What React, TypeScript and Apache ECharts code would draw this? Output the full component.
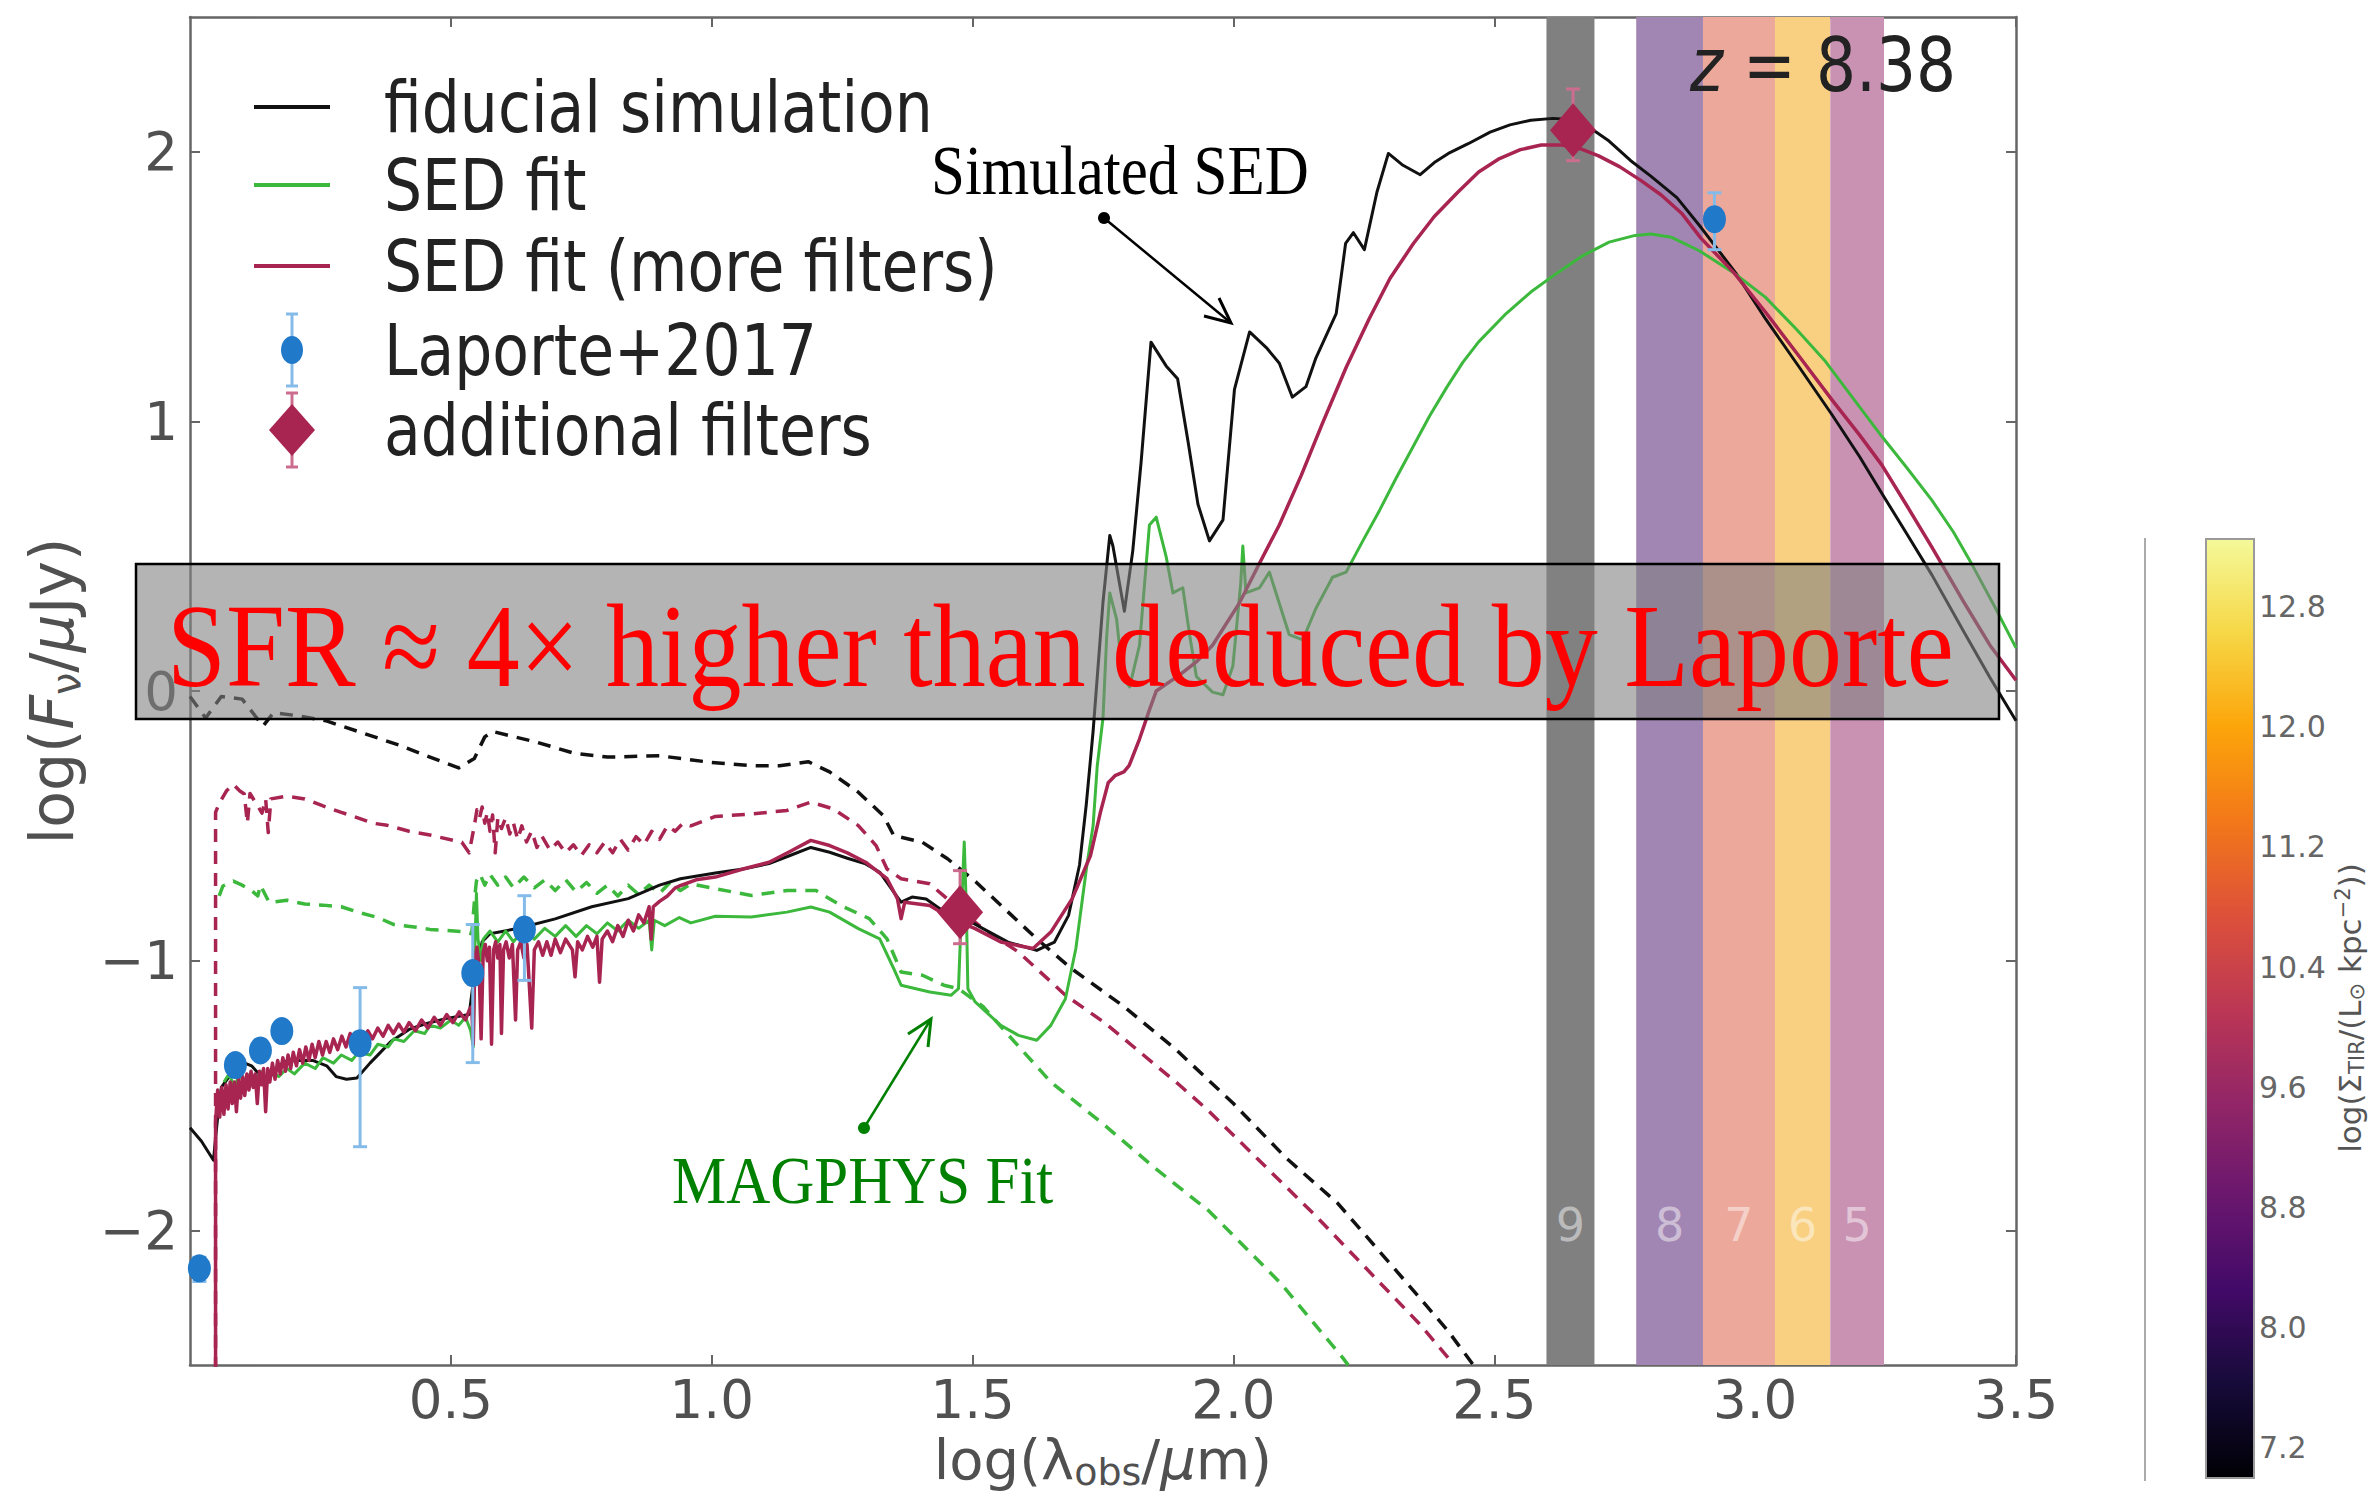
import React, { useEffect, useRef } from 'react';
import * as echarts from 'echarts';

// ---------------- data ----------------
const xTickValues = [0.5, 1.0, 1.5, 2.0, 2.5, 3.0, 3.5];
const yTickValues = [-2, -1, 0, 1, 2];
const colorbarTicks = [7.2, 8.0, 8.8, 9.6, 10.4, 11.2, 12.0, 12.8];

const almaBandNames = ['9', '8', '7', '6', '5'];
const almaBandEdges = [
  [2.600, 2.692],
  [2.772, 2.900],
  [2.900, 3.038],
  [3.038, 3.144],
  [3.144, 3.247],
];

const legendLabels = ['fiducial simulation', 'SED fit', 'SED fit (more filters)', 'Laporte+2017', 'additional filters'];

// black solid
const fiducialSim = [
  [0.000, -1.62], [0.022, -1.67], [0.045, -1.74], [0.052, -1.60], [0.060, -1.47], [0.075, -1.43], [0.090, -1.41],
  [0.105, -1.38], [0.118, -1.39], [0.132, -1.42], [0.150, -1.44], [0.165, -1.40], [0.180, -1.375], [0.200, -1.37],
  [0.235, -1.37], [0.262, -1.39], [0.280, -1.43], [0.300, -1.44], [0.320, -1.435], [0.345, -1.38], [0.365, -1.34],
  [0.385, -1.30], [0.420, -1.255], [0.450, -1.235], [0.490, -1.215], [0.535, -1.20], [0.545, -1.05], [0.560, -0.93],
  [0.575, -0.90], [0.630, -0.88], [0.700, -0.845], [0.770, -0.80], [0.840, -0.77], [0.900, -0.72], [0.940, -0.696],
  [1.007, -0.675], [1.060, -0.66], [1.110, -0.64], [1.150, -0.61], [1.190, -0.58], [1.226, -0.598], [1.260, -0.62],
  [1.295, -0.641], [1.322, -0.672], [1.349, -0.746], [1.363, -0.783], [1.384, -0.764], [1.411, -0.771], [1.438, -0.808],
  [1.486, -0.844], [1.520, -0.881], [1.568, -0.931], [1.623, -0.962], [1.657, -0.931], [1.684, -0.832], [1.705, -0.645],
  [1.718, -0.42], [1.731, -0.15], [1.750, 0.33], [1.763, 0.577], [1.769, 0.538], [1.791, 0.296], [1.807, 0.519],
  [1.823, 0.848], [1.842, 1.294], [1.871, 1.206], [1.893, 1.158], [1.913, 0.926], [1.932, 0.693], [1.954, 0.557],
  [1.980, 0.635], [2.002, 1.119], [2.031, 1.332], [2.063, 1.274], [2.088, 1.216], [2.113, 1.09], [2.139, 1.129],
  [2.158, 1.235], [2.197, 1.40], [2.215, 1.66], [2.230, 1.70], [2.251, 1.637], [2.275, 1.85], [2.297, 1.994],
  [2.325, 1.95], [2.358, 1.915], [2.385, 1.96], [2.412, 1.994], [2.450, 2.03], [2.492, 2.073], [2.530, 2.10],
  [2.570, 2.117], [2.613, 2.124], [2.645, 2.12], [2.675, 2.10], [2.720, 2.04], [2.761, 1.968], [2.800, 1.91],
  [2.850, 1.83], [2.896, 1.72], [2.963, 1.55], [3.020, 1.38], [3.085, 1.20], [3.148, 1.023], [3.200, 0.87],
  [3.243, 0.733], [3.290, 0.585], [3.339, 0.43], [3.400, 0.22], [3.450, 0.05], [3.500, -0.11],
];

// black dashed
const fiducialIntrinsic = [
  [0.000, -0.02], [0.030, -0.10], [0.060, -0.02], [0.100, -0.03], [0.140, -0.13], [0.160, -0.08], [0.200, -0.09],
  [0.260, -0.11], [0.330, -0.155], [0.400, -0.20], [0.460, -0.245], [0.515, -0.285], [0.545, -0.25], [0.565, -0.17],
  [0.580, -0.15], [0.665, -0.19], [0.735, -0.23], [0.800, -0.245], [0.900, -0.24], [1.000, -0.265], [1.076, -0.277],
  [1.130, -0.277], [1.185, -0.262], [1.226, -0.30], [1.281, -0.375], [1.329, -0.462], [1.349, -0.536], [1.404, -0.561],
  [1.452, -0.622], [1.507, -0.709], [1.575, -0.832], [1.623, -0.919], [1.690, -1.03], [1.790, -1.17], [1.890, -1.33],
  [2.000, -1.53], [2.100, -1.73], [2.200, -1.90], [2.330, -2.19], [2.410, -2.37], [2.460, -2.50],
];

// green solid
const sedFit = [
  [0.065, -1.45], [0.075, -1.42], [0.085, -1.47], [0.095, -1.42], [0.105, -1.46], [0.115, -1.42], [0.125, -1.45],
  [0.135, -1.41], [0.145, -1.47], [0.155, -1.41], [0.170, -1.43], [0.186, -1.40], [0.200, -1.42], [0.220, -1.38],
  [0.240, -1.40], [0.255, -1.36], [0.275, -1.38], [0.290, -1.35], [0.310, -1.37], [0.323, -1.34], [0.345, -1.35],
  [0.360, -1.31], [0.380, -1.32], [0.391, -1.29], [0.410, -1.30], [0.430, -1.26], [0.450, -1.27], [0.460, -1.24],
  [0.480, -1.25], [0.500, -1.22], [0.515, -1.24], [0.528, -1.21], [0.538, -1.26], [0.543, -1.32], [0.546, -0.95],
  [0.549, -0.75], [0.552, -0.92], [0.558, -1.00], [0.562, -0.92], [0.575, -0.89], [0.590, -0.93], [0.605, -0.89],
  [0.620, -0.93], [0.640, -0.88], [0.660, -0.92], [0.680, -0.88], [0.700, -0.91], [0.720, -0.87], [0.740, -0.91],
  [0.760, -0.87], [0.780, -0.90], [0.800, -0.86], [0.820, -0.89], [0.840, -0.85], [0.860, -0.88], [0.880, -0.85],
  [0.885, -0.96], [0.890, -0.85], [0.910, -0.87], [0.938, -0.84], [0.960, -0.86], [1.007, -0.835], [1.076, -0.838],
  [1.144, -0.82], [1.190, -0.801], [1.226, -0.82], [1.281, -0.881], [1.322, -0.919], [1.349, -1.03], [1.363, -1.091],
  [1.418, -1.116], [1.459, -1.128], [1.473, -1.104], [1.479, -0.80], [1.484, -0.56], [1.488, -0.80], [1.491, -1.104],
  [1.505, -1.153], [1.554, -1.24], [1.588, -1.277], [1.623, -1.295], [1.650, -1.24], [1.678, -1.141], [1.698, -0.955],
  [1.719, -0.647], [1.731, -0.50], [1.739, -0.277], [1.750, -0.10], [1.757, 0.20], [1.763, 0.364], [1.776, 0.267],
  [1.788, 0.054], [1.801, 0.015], [1.820, 0.17], [1.839, 0.616], [1.852, 0.645], [1.871, 0.499], [1.884, 0.364],
  [1.903, 0.383], [1.916, 0.209], [1.929, 0.054], [1.960, -0.004], [1.980, -0.014], [1.999, 0.093], [2.014, 0.40],
  [2.018, 0.538], [2.024, 0.364], [2.050, 0.383], [2.069, 0.441], [2.088, 0.325], [2.107, 0.209], [2.133, 0.19],
  [2.158, 0.306], [2.190, 0.422], [2.216, 0.441], [2.248, 0.557], [2.280, 0.67], [2.312, 0.79], [2.344, 0.905],
  [2.376, 1.02], [2.410, 1.13], [2.440, 1.22], [2.470, 1.295], [2.520, 1.395], [2.570, 1.48], [2.620, 1.55],
  [2.670, 1.615], [2.720, 1.665], [2.770, 1.69], [2.800, 1.695], [2.840, 1.683], [2.893, 1.633], [2.960, 1.55],
  [3.020, 1.46], [3.080, 1.34], [3.135, 1.222], [3.190, 1.08], [3.243, 0.944], [3.290, 0.83], [3.339, 0.707],
  [3.380, 0.59], [3.416, 0.468], [3.460, 0.31], [3.500, 0.16],
];

// green dashed
const sedFitIntrinsic = [
  [0.056, -0.76], [0.063, -0.723], [0.083, -0.705], [0.100, -0.72], [0.118, -0.74], [0.130, -0.76], [0.135, -0.72],
  [0.152, -0.785], [0.186, -0.776], [0.220, -0.79], [0.255, -0.794], [0.290, -0.80], [0.323, -0.821], [0.360, -0.84],
  [0.391, -0.866], [0.430, -0.875], [0.460, -0.884], [0.528, -0.893], [0.540, -0.90], [0.546, -0.76], [0.549, -0.705],
  [0.556, -0.68], [0.565, -0.72], [0.575, -0.68], [0.590, -0.72], [0.605, -0.69], [0.620, -0.73], [0.640, -0.69],
  [0.660, -0.73], [0.680, -0.70], [0.700, -0.74], [0.720, -0.70], [0.740, -0.745], [0.760, -0.71], [0.780, -0.75],
  [0.800, -0.72], [0.820, -0.76], [0.840, -0.72], [0.860, -0.755], [0.880, -0.72], [0.900, -0.75], [0.920, -0.71],
  [0.940, -0.74], [0.960, -0.715], [1.007, -0.733], [1.076, -0.758], [1.144, -0.74], [1.200, -0.74], [1.247, -0.795],
  [1.302, -0.844], [1.336, -0.919], [1.363, -1.042], [1.404, -1.054], [1.445, -1.091], [1.473, -1.104], [1.520, -1.17],
  [1.580, -1.30], [1.650, -1.45], [1.753, -1.61], [1.850, -1.77], [1.954, -1.93], [2.089, -2.193], [2.210, -2.474],
  [2.220, -2.50],
];

// crimson solid
const sedFitMore = [
  [0.049, -2.60], [0.049, -1.60], [0.053, -1.48], [0.057, -1.58], [0.061, -1.47], [0.065, -1.57], [0.069, -1.46],
  [0.073, -1.55], [0.077, -1.45], [0.081, -1.53], [0.085, -1.45], [0.089, -1.56], [0.093, -1.44], [0.097, -1.51],
  [0.101, -1.43], [0.105, -1.50], [0.109, -1.42], [0.113, -1.48], [0.117, -1.41], [0.121, -1.47], [0.125, -1.42],
  [0.129, -1.53], [0.133, -1.41], [0.137, -1.46], [0.141, -1.40], [0.145, -1.56], [0.149, -1.40], [0.153, -1.45],
  [0.158, -1.38], [0.163, -1.44], [0.168, -1.37], [0.173, -1.42], [0.178, -1.36], [0.183, -1.41], [0.188, -1.35],
  [0.193, -1.40], [0.198, -1.34], [0.204, -1.39], [0.210, -1.33], [0.216, -1.38], [0.222, -1.32], [0.228, -1.37],
  [0.234, -1.31], [0.240, -1.36], [0.247, -1.30], [0.254, -1.35], [0.261, -1.30], [0.268, -1.34], [0.275, -1.29],
  [0.283, -1.33], [0.291, -1.28], [0.299, -1.32], [0.307, -1.27], [0.315, -1.31], [0.323, -1.27], [0.332, -1.30],
  [0.341, -1.26], [0.350, -1.29], [0.360, -1.25], [0.370, -1.28], [0.380, -1.24], [0.390, -1.27], [0.400, -1.235],
  [0.410, -1.265], [0.420, -1.23], [0.432, -1.26], [0.444, -1.22], [0.456, -1.25], [0.468, -1.21], [0.480, -1.24],
  [0.492, -1.20], [0.504, -1.23], [0.516, -1.19], [0.528, -1.22], [0.536, -1.18], [0.540, -1.17], [0.543, -1.31],
  [0.546, -0.99], [0.550, -0.95], [0.554, -1.02], [0.558, -1.29], [0.562, -0.97], [0.566, -0.94], [0.570, -1.00],
  [0.574, -0.95], [0.578, -1.31], [0.582, -0.96], [0.586, -0.93], [0.590, -0.99], [0.594, -0.94], [0.597, -1.27],
  [0.601, -0.96], [0.606, -0.93], [0.612, -0.99], [0.618, -0.94], [0.624, -1.22], [0.628, -0.96], [0.634, -0.93],
  [0.640, -0.99], [0.646, -0.94], [0.655, -1.25], [0.660, -0.96], [0.668, -0.93], [0.676, -0.98], [0.684, -0.93],
  [0.692, -0.98], [0.700, -0.92], [0.710, -0.97], [0.720, -0.92], [0.733, -0.96], [0.738, -1.06], [0.743, -0.93],
  [0.752, -0.96], [0.762, -0.91], [0.772, -0.95], [0.780, -0.91], [0.785, -1.08], [0.790, -0.92], [0.800, -0.89],
  [0.810, -0.93], [0.820, -0.87], [0.830, -0.91], [0.840, -0.85], [0.850, -0.89], [0.860, -0.83], [0.870, -0.86],
  [0.880, -0.80], [0.884, -0.92], [0.888, -0.80], [0.900, -0.78], [0.915, -0.76], [0.930, -0.73], [0.938, -0.723],
  [0.970, -0.70], [1.007, -0.69], [1.060, -0.66], [1.110, -0.635], [1.150, -0.595], [1.190, -0.554], [1.226, -0.573],
  [1.260, -0.60], [1.295, -0.635], [1.336, -0.696], [1.356, -0.77], [1.363, -0.844], [1.370, -0.783], [1.418, -0.795],
  [1.459, -0.844], [1.505, -0.881], [1.554, -0.931], [1.616, -0.955], [1.650, -0.894], [1.691, -0.77], [1.726, -0.61],
  [1.745, -0.45], [1.760, -0.34], [1.773, -0.314], [1.790, -0.30], [1.800, -0.277], [1.820, -0.178], [1.839, -0.07],
  [1.852, 0.0], [1.897, 0.06], [1.930, 0.11], [1.960, 0.17], [2.011, 0.325], [2.049, 0.47], [2.088, 0.616],
  [2.130, 0.80], [2.170, 0.99], [2.216, 1.20], [2.260, 1.38], [2.300, 1.53], [2.345, 1.66], [2.385, 1.76],
  [2.430, 1.85], [2.470, 1.925], [2.510, 1.975], [2.550, 2.008], [2.590, 2.025], [2.630, 2.025], [2.667, 2.01],
  [2.700, 1.985], [2.740, 1.945], [2.780, 1.895], [2.820, 1.84], [2.860, 1.77], [2.896, 1.68], [2.960, 1.55],
  [3.020, 1.405], [3.085, 1.24], [3.148, 1.078], [3.200, 0.95], [3.243, 0.838], [3.290, 0.69], [3.339, 0.533],
  [3.400, 0.33], [3.450, 0.17], [3.500, 0.04],
];

// crimson dashed
const sedFitMoreIntrinsic = [
  [0.049, -2.60], [0.049, -0.45], [0.056, -0.417], [0.070, -0.37], [0.083, -0.346], [0.095, -0.37], [0.104, -0.382],
  [0.110, -0.49], [0.115, -0.38], [0.138, -0.453], [0.145, -0.40], [0.150, -0.525], [0.155, -0.40], [0.186, -0.39],
  [0.220, -0.40], [0.255, -0.426], [0.290, -0.45], [0.323, -0.471], [0.350, -0.49], [0.378, -0.498], [0.420, -0.52],
  [0.460, -0.534], [0.521, -0.561], [0.535, -0.60], [0.545, -0.50], [0.550, -0.44], [0.555, -0.47], [0.560, -0.43],
  [0.565, -0.49], [0.570, -0.45], [0.575, -0.52], [0.580, -0.46], [0.585, -0.60], [0.590, -0.47], [0.597, -0.51],
  [0.605, -0.47], [0.613, -0.53], [0.620, -0.49], [0.628, -0.55], [0.636, -0.50], [0.645, -0.56], [0.655, -0.52],
  [0.665, -0.58], [0.675, -0.54], [0.690, -0.59], [0.705, -0.56], [0.720, -0.60], [0.735, -0.57], [0.750, -0.61],
  [0.765, -0.57], [0.780, -0.60], [0.795, -0.56], [0.810, -0.60], [0.825, -0.55], [0.840, -0.59], [0.855, -0.54],
  [0.870, -0.57], [0.885, -0.52], [0.900, -0.55], [0.915, -0.50], [0.930, -0.52], [0.945, -0.49], [0.960, -0.50],
  [1.007, -0.465], [1.076, -0.456], [1.144, -0.443], [1.190, -0.412], [1.233, -0.437], [1.281, -0.499], [1.315, -0.573],
  [1.336, -0.66], [1.363, -0.696], [1.418, -0.715], [1.466, -0.795], [1.520, -0.881], [1.588, -0.968], [1.623, -1.03],
  [1.678, -1.128], [1.753, -1.23], [1.897, -1.462], [1.954, -1.56], [2.157, -1.945], [2.358, -2.35], [2.412, -2.474],
  [2.420, -2.50],
];

// Laporte+2017 photometry
const laportePoints = [
  [0.018, -2.141], [0.087, -1.387], [0.135, -1.333], [0.176, -1.261], [0.326, -1.306],
  [0.542, -1.046], [0.641, -0.884], [2.922, 1.750],
];
const laporteErrors = [
  [0.018, -2.19, -2.10], [0.087, -1.41, -1.36], [0.135, -1.36, -1.31], [0.176, -1.29, -1.24], [0.326, -1.69, -1.10],
  [0.542, -1.378, -0.866], [0.641, -1.073, -0.759], [2.922, 1.637, 1.848],
];

// additional filters
const additionalPoints = [[1.476, -0.820], [2.651, 2.080]];
const additionalErrors = [[1.476, -0.937, -0.666], [2.651, 1.967, 2.233]];

// ---------------- styles ----------------
const C_BLACK = '#111111';
const C_GREEN = '#3cb83c';
const C_CRIMSON = '#a82451';
const C_BLUE = '#2179c9';
const C_BLUE_ERR = '#84bbe8';
const C_DIAMOND_ERR = '#cc6d8f';
const bandColors = ['#808080', '#a186b3', '#eca89a', '#f9d081', '#c992b3'];
const F_SANS = 'DejaVu Sans';
const F_SERIF = 'Liberation Serif';
const AXIS_COLOR = '#666666';
const LABEL_COLOR = '#505050';

function lineSeries(name: string, data: number[][], color: string, dashed: boolean, z: number, width = 3) {
  return {
    type: 'line',
    name,
    data,
    xAxisIndex: 0,
    yAxisIndex: 0,
    showSymbol: false,
    symbol: 'none',
    silent: true,
    clip: true,
    z,
    lineStyle: { color, width, type: dashed ? [13, 9] : 'solid', cap: 'butt', join: 'round' },
  };
}

function errorBarSeries(name: string, data: number[][], color: string, capHalf: number, z: number) {
  return {
    type: 'custom',
    name,
    data,
    xAxisIndex: 0,
    yAxisIndex: 0,
    z,
    silent: true,
    clip: true,
    encode: { x: 0, y: [1, 2] },
    renderItem: (params: any, api: any) => {
      const x = api.value(0);
      const lo = api.coord([x, api.value(1)]);
      const hi = api.coord([x, api.value(2)]);
      const style = { stroke: color, lineWidth: 3 };
      return {
        type: 'group',
        children: [
          { type: 'line', shape: { x1: lo[0], y1: lo[1], x2: hi[0], y2: hi[1] }, style },
          { type: 'line', shape: { x1: lo[0] - capHalf, y1: lo[1], x2: lo[0] + capHalf, y2: lo[1] }, style },
          { type: 'line', shape: { x1: hi[0] - capHalf, y1: hi[1], x2: hi[0] + capHalf, y2: hi[1] }, style },
        ],
      };
    },
  };
}

function fmtTick(v: number) {
  const s = Number.isInteger(v) ? String(Math.abs(v)) : Math.abs(v).toFixed(1);
  return v < 0 ? '\u2212' + s : s;
}

function buildGraphic() {
  const g: any[] = [];
  const legendY = [107, 185, 266, 350, 430];
  const legendTextX = 384;
  const lx1 = 254, lx2 = 330, lcx = 292;
  const txt = (text: string, x: number, y: number, size: number, family: string, fill: string, scaleY: number, extra: any = {}, z = 100) => ({
    type: 'text', x, y, scaleY, z,
    style: { text, fontSize: size, fontFamily: family, fill, align: 'left', verticalAlign: 'middle', ...extra },
  });
  // legend lines
  [C_BLACK, C_GREEN, C_CRIMSON].forEach((c, i) => {
    g.push({ type: 'line', z: 100, shape: { x1: lx1, y1: legendY[i], x2: lx2, y2: legendY[i] }, style: { stroke: c, lineWidth: 4 } });
  });
  // legend Laporte marker
  const by = legendY[3];
  g.push({ type: 'line', z: 100, shape: { x1: lcx, y1: by - 36, x2: lcx, y2: by + 36 }, style: { stroke: C_BLUE_ERR, lineWidth: 3 } });
  g.push({ type: 'line', z: 100, shape: { x1: lcx - 6, y1: by - 36, x2: lcx + 6, y2: by - 36 }, style: { stroke: C_BLUE_ERR, lineWidth: 3 } });
  g.push({ type: 'line', z: 100, shape: { x1: lcx - 6, y1: by + 36, x2: lcx + 6, y2: by + 36 }, style: { stroke: C_BLUE_ERR, lineWidth: 3 } });
  g.push({ type: 'ellipse', z: 101, shape: { cx: lcx, cy: by, rx: 11, ry: 14 }, style: { fill: C_BLUE } });
  // legend diamond
  const dy = legendY[4];
  g.push({ type: 'line', z: 100, shape: { x1: lcx, y1: dy - 37, x2: lcx, y2: dy + 37 }, style: { stroke: C_DIAMOND_ERR, lineWidth: 3 } });
  g.push({ type: 'line', z: 100, shape: { x1: lcx - 6, y1: dy - 37, x2: lcx + 6, y2: dy - 37 }, style: { stroke: C_DIAMOND_ERR, lineWidth: 3 } });
  g.push({ type: 'line', z: 100, shape: { x1: lcx - 6, y1: dy + 37, x2: lcx + 6, y2: dy + 37 }, style: { stroke: C_DIAMOND_ERR, lineWidth: 3 } });
  g.push({ type: 'polygon', z: 101, shape: { points: [[lcx, dy - 26], [lcx + 23, dy], [lcx, dy + 26], [lcx - 23, dy]] }, style: { fill: C_CRIMSON } });
  legendLabels.forEach((t, i) => g.push(txt(t, legendTextX, legendY[i], 60, F_SANS, '#222222', 1.2)));

  // z = 8.38
  g.push(txt('{it|z} = 8.38', 1690, 64, 63, F_SANS, '#222222', 1.2, {
    rich: { it: { fontStyle: 'italic', fontSize: 63, fontFamily: F_SANS, fill: '#222222' } },
  }));

  // "Simulated SED" annotation
  g.push(txt('Simulated SED', 931, 170, 61, F_SERIF, '#000000', 1.15));
  g.push({ type: 'line', z: 100, shape: { x1: 1104, y1: 218, x2: 1231, y2: 323 }, style: { stroke: '#000000', lineWidth: 2.5 } });
  g.push({ type: 'polyline', z: 100, shape: { points: [[1204, 316], [1231, 323], [1219, 298]] }, style: { stroke: '#000000', lineWidth: 3, fill: 'none' } });
  g.push({ type: 'circle', z: 100, shape: { cx: 1104, cy: 218, r: 6 }, style: { fill: '#000000' } });

  // "MAGPHYS Fit" annotation
  g.push(txt('MAGPHYS Fit', 672, 1180, 61, F_SERIF, '#008000', 1.12));
  g.push({ type: 'line', z: 100, shape: { x1: 864, y1: 1128, x2: 931, y2: 1019 }, style: { stroke: '#008000', lineWidth: 2.5 } });
  g.push({ type: 'polyline', z: 100, shape: { points: [[928, 1047], [931, 1019], [908, 1034]] }, style: { stroke: '#008000', lineWidth: 3, fill: 'none' } });
  g.push({ type: 'circle', z: 100, shape: { cx: 864, cy: 1128, r: 6 }, style: { fill: '#008000' } });

  // grey box with red statement
  g.push({ type: 'rect', z: 110, shape: { x: 136, y: 564, width: 1863, height: 155 }, style: { fill: 'rgba(130,130,130,0.6)', stroke: '#000000', lineWidth: 2.5 } });
  g.push(txt('SFR \u2248 4\u00d7 higher than deduced by Laporte', 167, 646, 106, F_SERIF, '#ff0000', 1.12, {}, 111));

  // colorbar
  g.push({ type: 'line', z: 100, shape: { x1: 2145, y1: 538, x2: 2145, y2: 1481 }, style: { stroke: '#aaaaaa', lineWidth: 2 } });
  g.push({
    type: 'rect', z: 100, shape: { x: 2206, y: 539, width: 48, height: 939 },
    style: {
      stroke: '#9a9a9a', lineWidth: 2,
      fill: new echarts.graphic.LinearGradient(0, 1, 0, 0, [
        { offset: 0.0, color: '#000004' }, { offset: 0.1, color: '#160b39' }, { offset: 0.2, color: '#420a68' },
        { offset: 0.3, color: '#6a176e' }, { offset: 0.4, color: '#932667' }, { offset: 0.5, color: '#bc3754' },
        { offset: 0.6, color: '#dd513a' }, { offset: 0.7, color: '#f37819' }, { offset: 0.8, color: '#fca50a' },
        { offset: 0.9, color: '#f6d746' }, { offset: 1.0, color: '#f4f99a' },
      ]),
    },
  });
  g.push({
    type: 'text', x: 2350, y: 1008, rotation: Math.PI / 2, z: 100,
    style: {
      text: 'log(\u03a3{sub|TIR}/(L{sub|\u2299} kpc{sup|\u22122}))', fontSize: 31, fontFamily: F_SANS, fill: '#555555',
      align: 'center', verticalAlign: 'middle',
      rich: {
        sub: { fontSize: 21, fontFamily: F_SANS, fill: '#555555', padding: [14, 0, 0, 0] },
        sup: { fontSize: 21, fontFamily: F_SANS, fill: '#555555', padding: [0, 0, 14, 0] },
      },
    },
  });
  return g;
}

function buildOption() {
  const axisLine = { show: true, onZero: false, lineStyle: { color: AXIS_COLOR, width: 2.5 } };
  const tick = { show: true, inside: true, length: 10, lineStyle: { color: AXIS_COLOR, width: 2 } };
  const labelStyle = { fontSize: 53, color: LABEL_COLOR, fontFamily: F_SANS };
  const bandLabelData = almaBandEdges.map((e, i) => [(e[0] + e[1]) / 2, -1.98, almaBandNames[i]]);

  return {
    animation: false,
    backgroundColor: '#ffffff',
    textStyle: { fontFamily: F_SANS },
    grid: [
      { left: 190, top: 17, width: 1826, height: 1349, containLabel: false },
      { left: 2206, top: 539, width: 48, height: 939, containLabel: false },
    ],
    xAxis: [
      {
        gridIndex: 0, type: 'value', min: 0, max: 3.5, interval: 0.5,
        axisLine, axisTick: { ...tick, customValues: xTickValues },
        axisLabel: { ...labelStyle, margin: 8, customValues: xTickValues, formatter: (v: number) => (v === 0 ? '' : v.toFixed(1)) },
        splitLine: { show: false },
        name: 'log(\u03bb{sub|obs}/{it|\u03bc}m)', nameLocation: 'middle', nameGap: 60,
        nameTextStyle: {
          fontSize: 56, color: LABEL_COLOR, fontFamily: F_SANS,
          rich: {
            sub: { fontSize: 38, color: LABEL_COLOR, fontFamily: F_SANS, padding: [26, 0, 0, 0] },
            it: { fontSize: 56, color: LABEL_COLOR, fontFamily: F_SANS, fontStyle: 'italic' },
          },
        },
      },
      {
        gridIndex: 0, type: 'value', position: 'top', min: 0, max: 3.5, interval: 0.5,
        axisLine, axisTick: { ...tick, customValues: xTickValues }, axisLabel: { show: false }, splitLine: { show: false },
      },
      { gridIndex: 1, type: 'value', min: 0, max: 1, show: false },
    ],
    yAxis: [
      {
        gridIndex: 0, type: 'value', min: -2.5, max: 2.5, interval: 0.5,
        axisLine, axisTick: { ...tick, customValues: yTickValues },
        axisLabel: {
          ...labelStyle, margin: 12, customValues: yTickValues,
          formatter: (v: number) => (Number.isInteger(v) && Math.abs(v) < 2.5 ? fmtTick(v) : ''),
        },
        splitLine: { show: false },
        name: 'log({it|F}{sub|\u03bd}/{it|\u03bc}Jy)', nameLocation: 'middle', nameRotate: 90, nameGap: 104,
        nameTextStyle: {
          fontSize: 60, color: LABEL_COLOR, fontFamily: F_SANS,
          rich: {
            sub: { fontSize: 40, color: LABEL_COLOR, fontFamily: F_SANS, padding: [28, 0, 0, 0] },
            it: { fontSize: 60, color: LABEL_COLOR, fontFamily: F_SANS, fontStyle: 'italic' },
          },
        },
      },
      {
        gridIndex: 0, type: 'value', position: 'right', min: -2.5, max: 2.5, interval: 0.5,
        axisLine, axisTick: { ...tick, customValues: yTickValues }, axisLabel: { show: false }, splitLine: { show: false },
      },
      {
        gridIndex: 1, type: 'value', position: 'right', min: 7.0, max: 13.25, interval: 0.05,
        axisLine: { show: false, onZero: false },
        axisTick: { show: true, inside: true, length: 7, customValues: colorbarTicks, lineStyle: { color: '#777777', width: 1.5 } },
        axisLabel: {
          show: true, margin: 5, fontSize: 30, color: '#666666', fontFamily: F_SANS, customValues: colorbarTicks,
          formatter: (v: number) => v.toFixed(1),
        },
        splitLine: { show: false },
      },
    ],
    series: [
      {
        type: 'scatter', name: 'ALMA bands', xAxisIndex: 0, yAxisIndex: 0, z: 1, silent: true,
        data: bandLabelData, symbol: 'circle', symbolSize: 2, itemStyle: { color: 'rgba(0,0,0,0)' },
        label: {
          show: true, position: 'inside', formatter: (p: any) => p.value[2],
          fontSize: 46, fontFamily: F_SANS, color: 'rgba(255,255,255,0.6)',
        },
        labelLayout: { hideOverlap: false },
        markArea: {
          silent: true,
          label: { show: false },
          data: almaBandEdges.map((e, i) => [
            { xAxis: e[0], itemStyle: { color: bandColors[i], opacity: 1 } },
            { xAxis: e[1] },
          ]),
        },
      },
      lineSeries('fiducial simulation (intrinsic)', fiducialIntrinsic, C_BLACK, true, 3, 3.5),
      lineSeries('SED fit (more filters, intrinsic)', sedFitMoreIntrinsic, C_CRIMSON, true, 4, 3.5),
      lineSeries('SED fit (intrinsic)', sedFitIntrinsic, C_GREEN, true, 5, 3.5),
      lineSeries('fiducial simulation', fiducialSim, C_BLACK, false, 6, 3),
      lineSeries('SED fit', sedFit, C_GREEN, false, 7, 3),
      lineSeries('SED fit (more filters)', sedFitMore, C_CRIMSON, false, 8, 3.5),
      errorBarSeries('Laporte+2017 errors', laporteErrors, C_BLUE_ERR, 7, 9),
      errorBarSeries('additional filters errors', additionalErrors, C_DIAMOND_ERR, 7, 9),
      {
        type: 'scatter', name: 'Laporte+2017', xAxisIndex: 0, yAxisIndex: 0, z: 10, silent: true,
        data: laportePoints, symbol: 'circle', symbolSize: [23, 28], itemStyle: { color: C_BLUE, opacity: 1 },
      },
      {
        type: 'scatter', name: 'additional filters', xAxisIndex: 0, yAxisIndex: 0, z: 10, silent: true,
        data: additionalPoints, symbol: 'diamond', symbolSize: [46, 54], itemStyle: { color: C_CRIMSON, opacity: 1 },
      },
    ],
    graphic: buildGraphic(),
  };
}

export default function App() {
  const ref = useRef<HTMLDivElement>(null);
  useEffect(() => {
    if (!ref.current) return;
    const chart = echarts.init(ref.current, undefined, { renderer: 'svg' });
    chart.setOption(buildOption() as any);
    return () => chart.dispose();
  }, []);
  return (
    <div
      ref={ref}
      style={{ position: 'absolute', left: 0, top: 0, width: 2378, height: 1496, background: '#ffffff' }}
    />
  );
}
